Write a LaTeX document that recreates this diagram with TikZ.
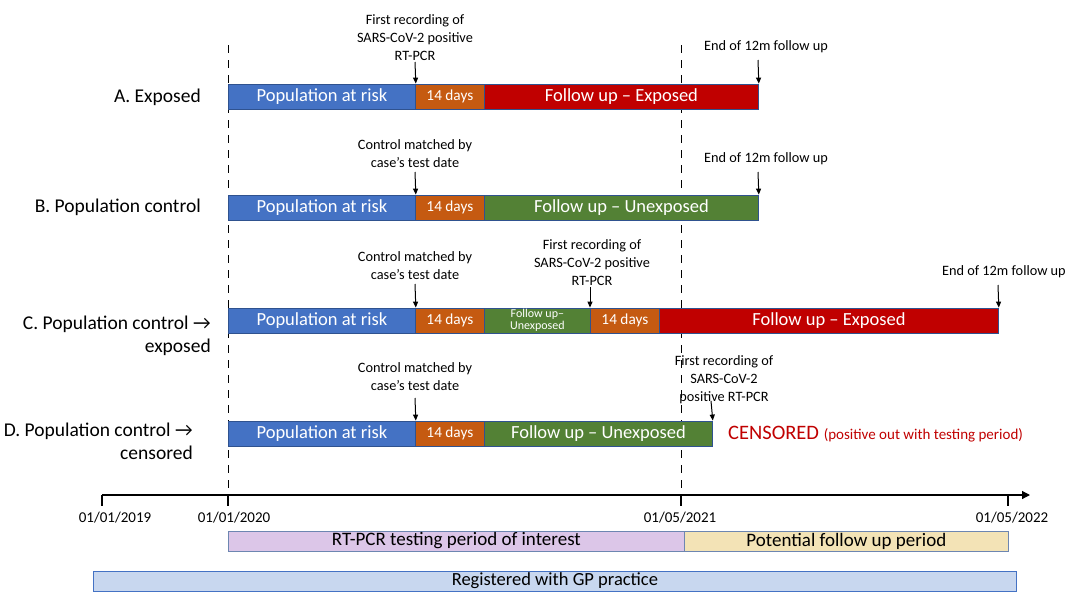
\documentclass[tikz,border=0pt]{standalone}
\usepackage{fontspec}
\setmainfont{Carlito}
\usetikzlibrary{arrows.meta}
\definecolor{cblue}{HTML}{4472C4}
\definecolor{cblueedge}{HTML}{2F528F}
\definecolor{corange}{HTML}{C55A11}
\definecolor{cred}{HTML}{C00000}
\definecolor{cgreen}{HTML}{538135}
\definecolor{cpurple}{HTML}{DCC6E8}
\definecolor{ctan}{HTML}{F3E3B6}
\definecolor{cgp}{HTML}{C8D7EF}
\tikzset{
  seg/.style={draw=cblueedge, line width=0.8pt, anchor=west, inner sep=0pt,
    minimum height=25pt, text=white, font=\fontsize{18.5}{19}\selectfont},
  segsmall/.style={seg, font=\fontsize{15.3}{16}\selectfont},
  segtiny/.style={seg, font=\fontsize{12}{12.5}\selectfont, align=center},
  rowlabel/.style={anchor=east, inner sep=0pt, font=\fontsize{19.5}{23}\selectfont, align=right},
  note/.style={inner sep=0pt, font=\fontsize{14.3}{18}\selectfont, align=center},
  marker/.style={-{Triangle[length=6pt,width=5pt]}, line width=1pt},
  vdash/.style={dash pattern=on 8pt off 7pt, line width=1pt},
  datel/.style={inner sep=0pt, font=\fontsize{15}{16}\selectfont},
  period/.style={draw=cblueedge!70, line width=0.8pt, anchor=west, inner sep=0pt,
    minimum height=20pt, font=\fontsize{19}{19}\selectfont},
}
\begin{document}
\begin{tikzpicture}[x=1pt,y=-1pt]
\useasboundingbox (0,0) rectangle (1066,592);
% dashed reference lines
\coordinate (d1t) at (228,45); \coordinate (d1b) at (228,495);
\coordinate (d2t) at (681,45); \coordinate (d2b) at (681,505);
\draw[vdash] (d1t) -- (d1b);
\draw[vdash] (d2t) -- (d2b);

% Row A
\node[rowlabel] (la) at (201,97) {A. Exposed};
\node[seg, fill=cblue, minimum width=187pt] (a1) at (228,96.5) {Population at risk};
\node[segsmall, fill=corange, minimum width=69pt] (a2) at (415,96.5) {14 days};
\node[seg, fill=cred, minimum width=274pt] (a3) at (484,96.5) {Follow up -- Exposed};
\node[note] (na1) at (415,38) {First recording of\\SARS-CoV-2 positive\\RT-PCR};
\coordinate (na1e) at (415,62);
\draw[marker] (na1e) -- (a1.north east);
\node[note, anchor=west] (na2) at (704,47) {End of 12m follow up};
\coordinate (na2e) at (758,60);
\draw[marker] (na2e) -- (a3.north east);

% Row B
\node[rowlabel] (lb) at (201,207) {B. Population control};
\node[seg, fill=cblue, minimum width=187pt] (b1) at (228,207.5) {Population at risk};
\node[segsmall, fill=corange, minimum width=69pt] (b2) at (415,207.5) {14 days};
\node[seg, fill=cgreen, minimum width=274pt] (b3) at (484,207.5) {Follow up -- Unexposed};
\node[note] (nb1) at (415,154) {Control matched by\\case’s test date};
\coordinate (nb1e) at (415,172);
\draw[marker] (nb1e) -- (b1.north east);
\node[note, anchor=west] (nb2) at (704,159) {End of 12m follow up};
\coordinate (nb2e) at (758,172);
\draw[marker] (nb2e) -- (b3.north east);

% Row C
\node[rowlabel] (lc) at (211,335.5) {C. Population control →\\exposed};
\node[seg, fill=cblue, minimum width=187pt] (c1) at (228,320.5) {Population at risk};
\node[segsmall, fill=corange, minimum width=69pt] (c2) at (415,320.5) {14 days};
\node[segtiny, fill=cgreen, minimum width=106pt] (c3) at (484,320.5) {Follow up--\\Unexposed};
\node[segsmall, fill=corange, minimum width=69pt] (c4) at (590,320.5) {14 days};
\node[seg, fill=cred, minimum width=339pt] (c5) at (659,320.5) {Follow up -- Exposed};
\node[note] (nc1) at (415,266) {Control matched by\\case’s test date};
\coordinate (nc1e) at (415,284);
\draw[marker] (nc1e) -- (c1.north east);
\node[note] (nc2) at (592,263) {First recording of\\SARS-CoV-2 positive\\RT-PCR};
\coordinate (nc2e) at (590,287);
\draw[marker] (nc2e) -- (c4.north west);
\node[note, anchor=east] (nc3) at (1066,272) {End of 12m follow up};
\coordinate (nc3e) at (998,285);
\draw[marker] (nc3e) -- (c5.north east);

% Row D
\node[rowlabel] (ld) at (193,441.5) {D. Population control →\\censored};
\node[seg, fill=cblue, minimum width=187pt] (d1) at (228,433.5) {Population at risk};
\node[segsmall, fill=corange, minimum width=69pt] (d2) at (415,433.5) {14 days};
\node[seg, fill=cgreen, minimum width=228pt] (d3) at (484,433.5) {Follow up -- Unexposed};
\node[note] (nd1) at (415,377) {Control matched by\\case’s test date};
\coordinate (nd1e) at (415,398);
\draw[marker] (nd1e) -- (d1.north east);
\node[note] (nd2) at (724,380) {First recording of\\SARS-CoV-2\\positive RT-PCR};
\coordinate (nd2e) at (711,401);
\draw[marker] (nd2e) -- (d3.north east);
\node[anchor=west, inner sep=0pt, text=cred] (cens) at (728,434)
  {\fontsize{20.5}{22}\selectfont CENSORED \fontsize{15}{16}\selectfont(positive out with testing period)};

% Axis
\coordinate (ax0) at (102,495); \coordinate (ax1) at (1030,495);
\draw[line width=1.2pt, -{Triangle[length=8pt,width=8pt]}] (ax0) -- (ax1);
\foreach \xx/\nm in {102/t1,228/t2,681/t3,1008/t4}{
  \coordinate (\nm a) at (\xx,495); \coordinate (\nm b) at (\xx,506);
  \draw[line width=1.2pt] (\nm a) -- (\nm b);
}
\node[datel] (dt1) at (115,518) {01/01/2019};
\node[datel] (dt2) at (234,518) {01/01/2020};
\node[datel] (dt3) at (680,518) {01/05/2021};
\node[datel] (dt4) at (1012,518) {01/05/2022};

% Periods
\node[period, fill=cpurple, minimum width=456pt] (p1) at (228,541) {RT-PCR testing period of interest};
\node[period, fill=ctan, minimum width=324pt] (p2) at (684,541) {Potential follow up period};
\node[period, fill=cgp, draw=cblue, minimum width=923pt, font=\fontsize{18.5}{19}\selectfont] (gp) at (93,581) {Registered with GP practice};
\end{tikzpicture}
\end{document}
